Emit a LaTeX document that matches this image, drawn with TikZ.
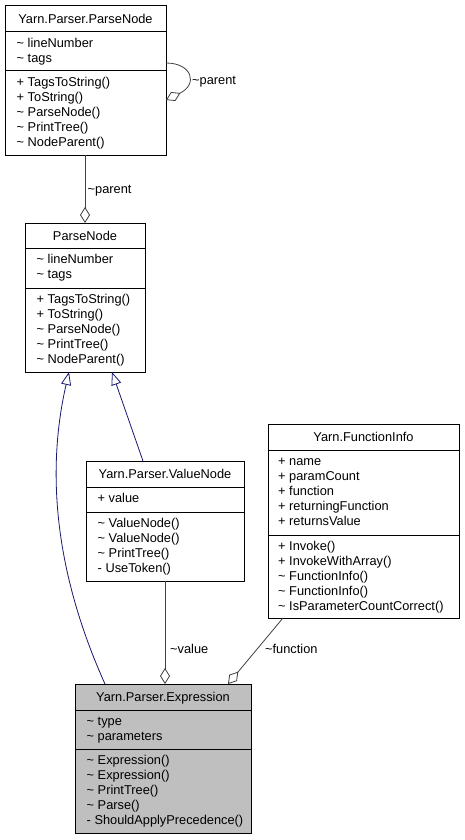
\documentclass[tikz,border=0pt]{standalone}
\usepackage{fontspec}
\setmainfont{Liberation Sans}
\usetikzlibrary{arrows.meta}
\definecolor{edgegray}{HTML}{404040}
\definecolor{inhblue}{HTML}{191970}
\definecolor{boxgray}{HTML}{BFBFBF}
\newcommand{\ut}{\textasciitilde\ }
\begin{document}
\begin{tikzpicture}[x=1pt,y=-1pt,
  umlbox/.style={draw=black, line width=1pt, fill=white, anchor=north west, inner sep=0pt, outer sep=0pt},
  boxtitle/.style={font=\fontsize{12.8}{15}\selectfont, inner sep=0pt, anchor=base},
  member/.style={font=\fontsize{12.8}{15}\selectfont, inner sep=0pt, anchor=base west},
  lbl/.style={font=\fontsize{12.8}{15}\selectfont, inner sep=0pt, anchor=base west},
  agg/.style={draw=edgegray, line width=0.8pt, -{Diamond[length=16pt,width=10pt,fill=white]}},
  inh/.style={draw=inhblue, line width=0.8pt, -{Triangle[length=13pt,width=10pt,fill=white]}},
  sepline/.style={draw=black, line width=1pt}]
\useasboundingbox[fill=white] (0,0) rectangle (464,840);

% ---------- Box 1: Yarn.Parser.ParseNode
\node[umlbox, minimum width=161pt, minimum height=149pt] (b1) at (5,6) {};
\draw[sepline] (5,32) -- (166,32);
\draw[sepline] (5,71) -- (166,71);
\node[boxtitle] (b1t) at (85.5,23.5) {Yarn.Parser.ParseNode};
\foreach [count=\i from 0] \t in {{\ut lineNumber},{\ut tags}}
  \node[member] (b1a\i) at (16.5,47.5+15*\i) {\t};
\foreach [count=\i from 0] \t in {{+ TagsToString()},{+ ToString()},{\ut ParseNode()},{\ut PrintTree()},{\ut NodeParent()}}
  \node[member] (b1m\i) at (16.5,86.5+15*\i) {\t};

% ---------- Box 2: ParseNode
\node[umlbox, minimum width=120pt, minimum height=149pt] (b2) at (25,223) {};
\draw[sepline] (25,248) -- (145,248);
\draw[sepline] (25,288) -- (145,288);
\node[boxtitle] (b2t) at (85,240.5) {ParseNode};
\foreach [count=\i from 0] \t in {{\ut lineNumber},{\ut tags}}
  \node[member] (b2a\i) at (36.5,263.5+15*\i) {\t};
\foreach [count=\i from 0] \t in {{+ TagsToString()},{+ ToString()},{\ut ParseNode()},{\ut PrintTree()},{\ut NodeParent()}}
  \node[member] (b2m\i) at (36.5,303.5+15*\i) {\t};

% ---------- Box 3: Yarn.Parser.ValueNode
\node[umlbox, minimum width=158pt, minimum height=120pt] (b3) at (86,461) {};
\draw[sepline] (86,487) -- (244,487);
\draw[sepline] (86,512) -- (244,512);
\node[boxtitle] (b3t) at (165,478.5) {Yarn.Parser.ValueNode};
\node[member] (b3a0) at (97.5,502.5) {+ value};
\foreach [count=\i from 0] \t in {{\ut ValueNode()},{\ut ValueNode()},{\ut PrintTree()},{- UseToken()}}
  \node[member] (b3m\i) at (97.5,527.5+15*\i) {\t};

% ---------- Box 4: Yarn.FunctionInfo
\node[umlbox, minimum width=191pt, minimum height=194pt] (b4) at (268,424) {};
\draw[sepline] (268,450) -- (459,450);
\draw[sepline] (268,535) -- (459,535);
\node[boxtitle] (b4t) at (363.5,441.5) {Yarn.FunctionInfo};
\foreach [count=\i from 0] \t in {{+ name},{+ paramCount},{+ function},{+ returningFunction},{+ returnsValue}}
  \node[member] (b4a\i) at (278,465.5+15*\i) {\t};
\foreach [count=\i from 0] \t in {{+ Invoke()},{+ InvokeWithArray()},{\ut FunctionInfo()},{\ut FunctionInfo()},{\ut IsParameterCountCorrect()}}
  \node[member] (b4m\i) at (278,550.5+15*\i) {\t};

% ---------- Box 5: Yarn.Parser.Expression
\node[umlbox, fill=boxgray, minimum width=176pt, minimum height=149pt] (b5) at (75,684) {};
\draw[sepline] (75,710) -- (251,710);
\draw[sepline] (75,749) -- (251,749);
\node[boxtitle] (b5t) at (163,701.5) {Yarn.Parser.Expression};
\foreach [count=\i from 0] \t in {{\ut type},{\ut parameters}}
  \node[member] (b5a\i) at (86.5,725.5+15*\i) {\t};
\foreach [count=\i from 0] \t in {{\ut Expression()},{\ut Expression()},{\ut PrintTree()},{\ut Parse()},{- ShouldApplyPrecedence()}}
  \node[member] (b5m\i) at (86.5,764.5+15*\i) {\t};

% ---------- Connectors
% self loop ~parent
\draw[agg] ([yshift=17.5pt]b1.east) .. controls (192,63) and (198.4,84.2) .. ([yshift=-19.5pt]b1.east);
\node[lbl] (l1) at (192,85) {\textasciitilde parent};
% Yarn.Parser.ParseNode -> ParseNode
\draw[agg] (b1.south -| b2.north) -- (b2.north);
\node[lbl] (l2) at (87.5,193.5) {\textasciitilde parent};
% ValueNode -> ParseNode (inheritance)
\draw[inh] ([xshift=57pt]b3.north west) -- ([xshift=87pt]b2.south west);
% Expression -> ParseNode (inheritance)
\draw[inh] ([xshift=30pt]b5.north west) .. controls (60,584) and (43.7,482) .. ([xshift=44pt]b2.south west);
% ValueNode -> Expression
\draw[agg] (b3.south) -- ([xshift=90pt]b5.north west);
\node[lbl] (l3) at (170,653.5) {\textasciitilde value};
% FunctionInfo -> Expression
\draw[agg] ([xshift=15pt]b4.south west) -- ([xshift=153pt]b5.north west);
\node[lbl] (l4) at (265,653.5) {\textasciitilde function};
\end{tikzpicture}
\end{document}
